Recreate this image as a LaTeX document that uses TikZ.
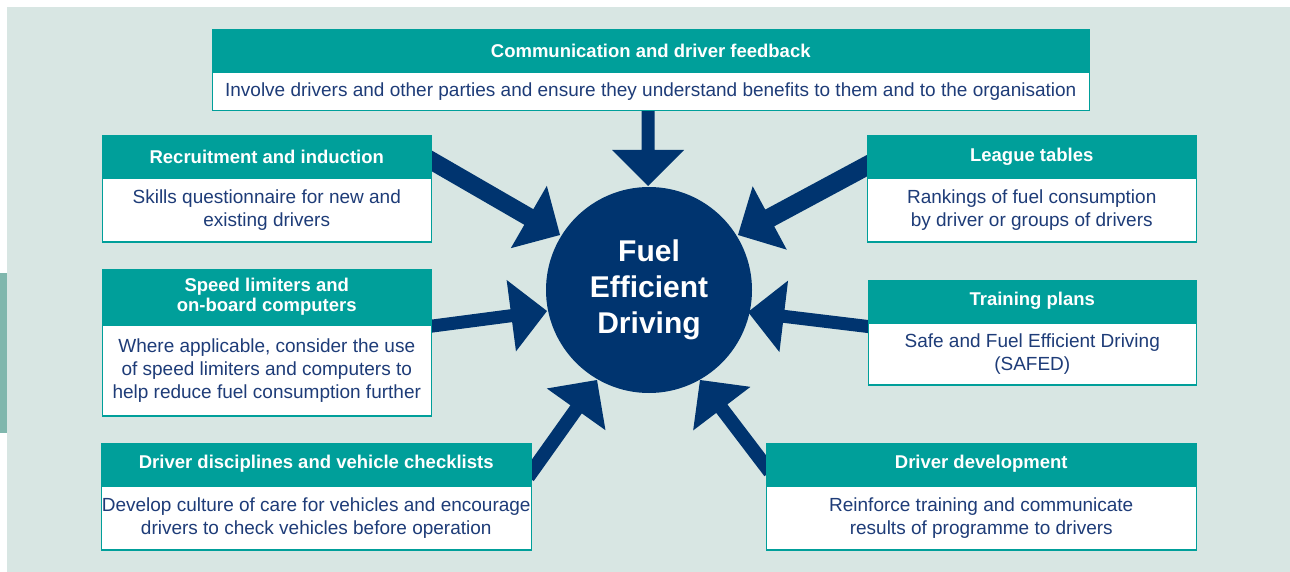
\documentclass[tikz,border=0pt]{standalone}
\usepackage{fontspec}
\setmainfont{Liberation Sans}
\usetikzlibrary{calc}
\definecolor{bgc}{HTML}{D8E6E3}
\definecolor{tealc}{HTML}{009F9A}
\definecolor{navyc}{HTML}{00346F}
\definecolor{txtc}{HTML}{1E3C78}
\definecolor{barc}{HTML}{80B7AD}
\newcommand\blockarrow[3]{%
  \coordinate (ab) at ($(#2)!36pt!(#1)$);
  \fill[arrowc] (#2) -- ($(ab)!36pt!90:(#2)$) -- ($(ab)!#3!90:(#2)$) -- ($(#1)!#3!90:(#2)$)
    -- ($(#1)!#3!-90:(#2)$) -- ($(ab)!#3!-90:(#2)$) -- ($(ab)!36pt!-90:(#2)$) -- cycle;}
\begin{document}
\begin{tikzpicture}[x=1pt,y=-1pt,
  hdr/.style={fill=tealc, draw=tealc, line width=1.5pt, anchor=north west, inner sep=0pt,
    text=white, font=\fontsize{18.5}{20}\selectfont\bfseries, align=center},
  bdy/.style={fill=white, draw=tealc, line width=1.5pt, anchor=north west, inner sep=0pt,
    text=txtc, font=\fontsize{19}{23}\selectfont, align=center},
  arrowc/.style={fill=navyc}]
\useasboundingbox (0,0) rectangle (1290,572);
\fill[bgc] (7,7) rectangle (1290,572);
\fill[barc] (0,273) rectangle (7,433);

% connector end points
\coordinate (s1) at (648,100); \coordinate (t1) at (648,186);
\coordinate (s2) at (425,157); \coordinate (t2) at (560,235);
\coordinate (s3) at (872,163); \coordinate (t3) at (738,235);
\coordinate (s4) at (425,327); \coordinate (t4) at (547,311);
\coordinate (s5) at (872,327); \coordinate (t5) at (748,312);
\coordinate (s6) at (528,477); \coordinate (t6) at (597,380);
\coordinate (s7) at (770,472); \coordinate (t7) at (700,380);

\blockarrow{s1}{t1}{6.5pt}
\blockarrow{s2}{t2}{9pt}
\blockarrow{s3}{t3}{9.5pt}
\blockarrow{s4}{t4}{6.5pt}
\blockarrow{s5}{t5}{6.5pt}
\blockarrow{s6}{t6}{7pt}
\blockarrow{s7}{t7}{7pt}

\node[circle, fill=navyc, minimum size=206pt, inner sep=0pt, text=white,
  font=\fontsize{30}{36}\selectfont\bfseries, align=center] (fed) at (649,290) {Fuel\\Efficient\\Driving};

% top
\node[hdr, minimum width=877pt, minimum height=41pt] (h1) at (211.5,29.5) {Communication and driver feedback};
\node[bdy, minimum width=877pt, minimum height=38pt] (b1) at (h1.south west) {Involve drivers and other parties and ensure they understand benefits to them and to the organisation};
% recruitment
\node[hdr, minimum width=329pt, minimum height=41pt] (h2) at (101.5,135.5) {Recruitment and induction};
\node[bdy, minimum width=329pt, minimum height=63pt] (b2) at (h2.south west) {Skills questionnaire for new and\\existing drivers};
% league
\node[hdr, minimum width=329pt, minimum height=41pt] (h3) at (866.5,135.5) {League tables};
\node[bdy, minimum width=329pt, minimum height=63pt] (b3) at (h3.south west) {Rankings of fuel consumption\\by driver or groups of drivers};
% speed
\node[hdr, minimum width=329pt, minimum height=54pt] (h4) at (101.5,268.5) {Speed limiters and\\on-board computers};
\node[bdy, minimum width=329pt, minimum height=91pt] (b4) at (h4.south west) {Where applicable, consider the use\\of speed limiters and computers to\\help reduce fuel consumption further};
% training
\node[hdr, minimum width=328pt, minimum height=41pt] (h5) at (867.5,279.5) {Training plans};
\node[bdy, minimum width=328pt, minimum height=62pt] (b5) at (h5.south west) {Safe and Fuel Efficient Driving\\(SAFED)};
% disciplines
\node[hdr, minimum width=430pt, minimum height=41pt] (h6) at (100.5,442.5) {Driver disciplines and vehicle checklists};
\node[bdy, minimum width=430pt, minimum height=64pt] (b6) at (h6.south west) {Develop culture of care for vehicles and encourage\\drivers to check vehicles before operation};
% development
\node[hdr, minimum width=430pt, minimum height=41pt] (h7) at (765.5,442.5) {Driver development};
\node[bdy, minimum width=430pt, minimum height=64pt] (b7) at (h7.south west) {Reinforce training and communicate\\results of programme to drivers};
\end{tikzpicture}
\end{document}
